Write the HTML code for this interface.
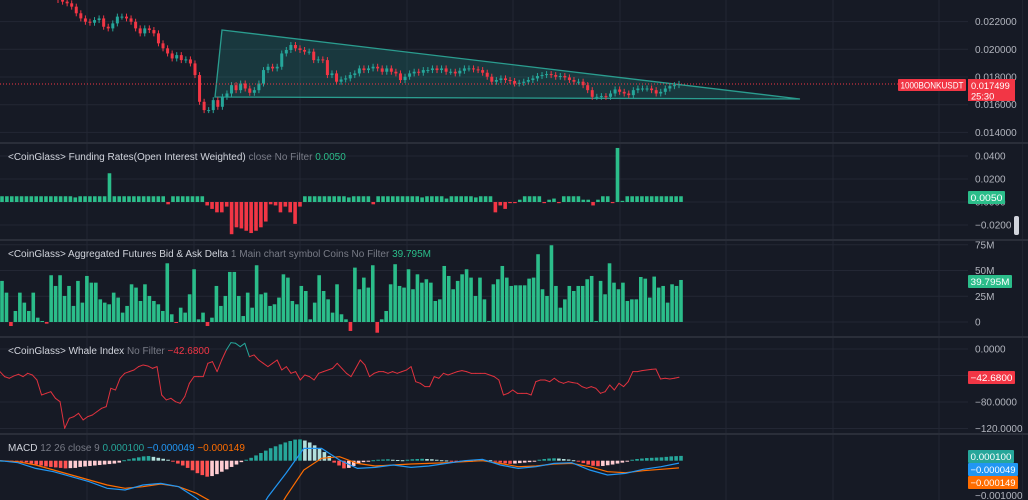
<!DOCTYPE html>
<html><head><meta charset="utf-8"><style>
html,body{margin:0;padding:0;background:#161a25;overflow:hidden;width:1028px;height:500px;}
#wrap{position:relative;width:1028px;height:500px;overflow:hidden;background:#161a25;font-family:"Liberation Sans",sans-serif;}
svg{position:absolute;left:0;top:0;display:block;}
.t{font-family:"Liberation Sans",sans-serif;font-size:10px;}
.tg{font-family:"Liberation Sans",sans-serif;font-size:9.3px;}
</style></head><body>
<div id="wrap">
<svg id="chart" width="1028" height="500"></svg>
</div>
<script>
// ---------- data ----------
const priceCloses=[0.02356,0.02344,0.02332,0.02308,0.02260,0.02223,0.02199,0.02192,0.02211,0.02223,0.02163,0.02151,0.02187,0.02236,0.02236,0.02223,0.02199,0.02151,0.02115,0.02151,0.02139,0.02115,0.02043,0.02007,0.01970,0.01934,0.01958,0.01922,0.01927,0.01898,0.01814,0.01621,0.01561,0.01561,0.01633,0.01585,0.01657,0.01681,0.01741,0.01705,0.01753,0.01717,0.01686,0.01705,0.01753,0.01850,0.01874,0.01862,0.01874,0.01970,0.01995,0.02031,0.02007,0.01995,0.01983,0.01983,0.01922,0.01927,0.01922,0.01814,0.01826,0.01766,0.01782,0.01790,0.01814,0.01826,0.01862,0.01850,0.01862,0.01874,0.01862,0.01838,0.01862,0.01838,0.01826,0.01778,0.01802,0.01826,0.01838,0.01831,0.01850,0.01850,0.01862,0.01850,0.01862,0.01838,0.01838,0.01826,0.01845,0.01862,0.01862,0.01855,0.01850,0.01831,0.01802,0.01766,0.01778,0.01790,0.01778,0.01771,0.01753,0.01758,0.01766,0.01778,0.01790,0.01807,0.01814,0.01821,0.01814,0.01802,0.01807,0.01797,0.01778,0.01766,0.01766,0.01741,0.01705,0.01657,0.01657,0.01662,0.01657,0.01681,0.01710,0.01693,0.01681,0.01669,0.01705,0.01717,0.01717,0.01717,0.01705,0.01681,0.01693,0.01717,0.01734,0.01741,0.01750];
const priceTicks=[0.022,0.020,0.018,0.016,0.014];
const priceTickLabels=["0.022000","0.020000","0.018000","0.016000","0.014000"];
const lastPrice=0.017499;
// funding rate in units of 0.001
const funding=[5,5,5,5,5,5,5,5,5,5,5,5,5,5,5,4,5,5,5,5,5,5,25,5,5,5,5,5,5,5,5,5,5,5,-2,5,5,5,5,5,5,5,
-3,-6,-9,-9,-4,-28,-22,-23,-25,-27,-25,-22,-17,-2,-3,-9,-4,-9,-19,-4,
5,5,5,5,5,5,5,5,5,4,5,5,5,5,-2,5,5,5,5,5,5,5,5,5,4,5,5,5,5,3,5,5,5,5,5,4,5,5,5,
-9,-3,-6,-1,-1,2,5,5,5,5,-1,2,3,-1,5,5,5,5,2,2,-3,2,5,5,-1,47,1,5,5,5,5,5,5,5,5,5,5,5,5];
const fundingTicks=[40,20,0,-20];
const fundingTickLabels=["0.0400","0.0200","0.0000","\u22120.0200"];
// bid/ask delta in millions
const delta=[39.9,28.5,-3.9,10.7,28.5,18.8,10.7,28.5,4.2,1.0,-1.6,45.4,35.0,45.4,25.3,35.0,15.6,39.9,18.8,44.7,38.2,38.2,22.0,18.8,17.2,28.5,23.7,9.1,15.6,36.6,33.4,20.4,36.6,25.3,20.4,17.2,10.7,57.0,7.5,-0.6,13.9,9.1,26.9,51.2,2.6,9.1,-3.9,4.2,35.0,15.6,25.3,48.6,48.6,25.3,5.8,28.5,13.9,55.1,26.9,28.5,15.6,17.2,23.7,46.3,43.1,20.4,17.2,35.0,30.1,2.6,18.8,45.4,30.1,22.0,9.1,36.6,7.5,2.6,-8.7,52.8,31.8,43.1,33.4,55.1,-10.4,2.6,10.7,36.6,56.1,35.0,33.4,51.2,31.8,46.3,38.2,41.5,38.2,20.4,22.0,54.4,44.7,31.8,39.9,46.3,51.2,43.1,25.3,43.1,22.0,1.0,36.6,41.5,54.4,43.1,35.0,35.6,35.6,35.6,42.1,43.1,65.8,31.8,25.3,74.5,35.0,13.9,22.0,35.0,30.1,35.0,35.0,41.5,44.7,1.0,39.9,26.9,57.0,38.2,31.8,38.2,20.4,22.0,22.0,43.7,42.1,23.7,44.1,33.4,35.0,18.8,36.6,35.0,40.8];
const deltaTicks=[75,50,25,0];
const deltaTickLabels=["75M","50M","25M","0"];
// whale index
const whale=[-34.2,-41.7,-44.2,-40.7,-38.2,-41.7,-36.7,-39.2,-46.8,-69.4,-66.9,-64.4,-74.4,-79.5,-119.7,-104.6,-102.1,-97.1,-107.1,-102.1,-99.6,-94.5,-89.5,-87,-59.3,-61.9,-44.2,-36.7,-34.2,-31.7,-26.6,-24.1,-25.6,-29.2,-26.6,-69.4,-76.9,-74.4,-79.5,-82,-71.9,-51.8,-41.7,-41.7,-41.7,-21.6,-19.1,-34.2,-16.6,-1.5,9.6,8.6,3.5,8.6,-11.6,-9.0,-16.6,-21.6,-26.6,-21.6,-16.6,-31.7,-26.6,-36.7,-34.2,-46.8,-39.2,-41.7,-46.8,-36.7,-34.2,-31.7,-29.2,-21.6,-29.2,-36.7,-41.7,-29.2,-16.6,-24.1,-41.7,-36.7,-34.2,-34.2,-36.7,-34.2,-36.7,-34.2,-31.7,-26.6,-49.3,-51.8,-56.8,-56.8,-41.7,-44.2,-36.7,-39.2,-36.7,-34.2,-32.7,-34.2,-36.7,-36.7,-36.7,-36.7,-39.2,-41.7,-46.8,-69.4,-66.9,-61.9,-66.9,-66.9,-66.9,-69.4,-49.3,-46.8,-46.8,-49.3,-44.2,-49.3,-51.8,-49.3,-50.8,-51.8,-56.8,-59.3,-56.8,-59.3,-66.9,-64.4,-54.3,-61.9,-51.8,-56.8,-49.3,-34.2,-34.2,-32.7,-31.7,-30.7,-30.2,-45.2,-44.2,-45.2,-44.2,-42.7];
const whaleTicks=[0,-80,-120];
const whaleTickLabels=["0.0000","\u221280.0000","\u2212120.0000"];
// MACD in units of 1e-6
const macdHist=[0,-5,-10,-15,-20,-35,-60,-80,-100,-120,-130,-140,-150,-160,-155,-150,-130,-120,-110,-100,-90,-80,-70,-60,-40,10,30,50,70,90,97,80,60,40,20,-20,-60,-100,-150,-200,-260,-300,-333,-320,-280,-230,-180,-130,-80,-30,20,60,110,160,210,260,300,340,380,410,440,444,420,380,320,260,180,100,-40,-100,-160,-150,-110,-60,-30,-10,10,20,25,30,20,15,10,20,30,35,40,35,30,20,10,5,-5,-10,-15,-10,-5,5,10,15,10,-20,-40,-55,-65,-60,-50,-40,-30,-10,20,35,45,50,45,35,25,10,-20,-50,-80,-105,-115,-110,-95,-80,-60,-40,-20,20,35,45,55,60,65,70,80,90,95,100];
const macdLine=[0,-42,-160,-229,-333,-437,-576,-611,-507,-472,-541,-784,-1097,-1374,-1374,-750,-264,257,257,14,-160,-139,-90,-139,-111,-56,0,28,-90,-160,-125,-56,-42,-194,-298,-264,-180,-125,-49];
const signalLine=[0,-21,-90,-194,-298,-403,-507,-576,-541,-486,-541,-680,-888,-1166,-1374,-1374,-750,-194,49,83,-56,-111,-90,-69,-56,-42,-21,0,-56,-125,-111,-69,-56,-125,-229,-250,-208,-180,-149];

// ---------- layout ----------
const svg=document.getElementById('chart');
const NS='http://www.w3.org/2000/svg';
const PLOT_R=968;
const C={grid:'#232734',sep:'#2a2e39',txt:'#b2b5be',dim:'#787b86',green:'#26a69a',red:'#f23645',bar:'#2bbd8a'};
function mk(tag,attrs,parent){const e=document.createElementNS(NS,tag);for(const k in attrs)e.setAttribute(k,attrs[k]);(parent||svg).appendChild(e);return e;}
function yPrice(p){return 77+(0.018-p)/0.002*27.7;}
function yFund(v){return 202-v*1.15;}
function yDelta(v){return 322-v*1.03;}
function yWhale(v){return 349-v*0.6625;}
function yMacd(v){return 460.7-v*0.048;}
function xIdx(i,n,x0,x1){return x0+(x1-x0)*i/(n-1);}

const clip=mk('clipPath',{id:'macdclip'});
mk('rect',{x:0,y:435,width:968,height:65},clip);

// background grid
const gridG=mk('g',{});


[87,194,300,407,513,620,726,833,939].forEach(x=>{mk('line',{x1:x,x2:x,y1:0,y2:500,stroke:C.grid,'stroke-width':1},gridG);});
priceTicks.forEach(p=>mk('line',{x1:0,x2:PLOT_R,y1:yPrice(p),y2:yPrice(p),stroke:C.grid},gridG));
fundingTicks.forEach(v=>mk('line',{x1:0,x2:PLOT_R,y1:yFund(v),y2:yFund(v),stroke:C.grid},gridG));
deltaTicks.forEach(v=>mk('line',{x1:0,x2:PLOT_R,y1:yDelta(v),y2:yDelta(v),stroke:C.grid},gridG));
[0,-40,-80,-120].forEach(v=>mk('line',{x1:0,x2:PLOT_R,y1:yWhale(v),y2:yWhale(v),stroke:C.grid},gridG));
[143,240,337,434].forEach(y=>mk('line',{x1:0,x2:1028,y1:y,y2:y,stroke:C.sep,'stroke-width':2},gridG));
mk('line',{x1:1022,x2:1022,y1:0,y2:500,stroke:C.sep,'stroke-width':1},gridG);

// ---------- price pane ----------
const tri=mk('polygon',{points:'222,30 800,99 215,97',fill:'rgba(38,166,154,0.22)',stroke:'#2a9d8f','stroke-width':1.3});


const candG=mk('g',{});


{let prev=0.0237;const n=priceCloses.length;
for(let i=0;i<n;i++){const c=priceCloses[i],o=prev;prev=c;const x=xIdx(i,n,58,679);
 const up=c>=o,col=up?C.green:C.red;const yt=yPrice(Math.max(o,c)),yb=yPrice(Math.min(o,c));
 mk('line',{x1:x,x2:x,y1:yt-3,y2:yb+3,stroke:col,'stroke-width':1},candG);
 const r=mk('rect',{x:x-1.5,y:yt,width:3,height:Math.max(1,yb-yt),fill:col},candG);
 
 }}
const pl=mk('line',{x1:0,x2:898,y1:yPrice(lastPrice),y2:yPrice(lastPrice),stroke:C.red,'stroke-width':1,'stroke-dasharray':'1,2'});



// ---------- funding ----------
const fG=mk('g',{});


{const n=funding.length;for(let i=0;i<n;i++){const v=funding[i];const x=xIdx(i,n,2,681);const y0=yFund(0),y1=yFund(v);
 const r=mk('rect',{x:x-1.8,y:Math.min(y0,y1),width:3.6,height:Math.max(1,Math.abs(y1-y0)),fill:v>=0?C.bar:C.red},fG);
 
 }}

// ---------- delta ----------
const dG=mk('g',{});


{const n=delta.length;for(let i=0;i<n;i++){const v=delta[i];const x=xIdx(i,n,2,681);const y0=yDelta(0),y1=yDelta(v);
 const r=mk('rect',{x:x-1.8,y:Math.min(y0,y1),width:3.6,height:Math.max(1,Math.abs(y1-y0)),fill:v>=0?C.bar:C.red},dG);
 
 }}

// ---------- whale ----------
{const n=whale.length;const wG=mk('g',{});


for(let i=1;i<n;i++){const a=whale[i-1],b=whale[i];
 mk('line',{x1:xIdx(i-1,n,0,679),y1:yWhale(a),x2:xIdx(i,n,0,679),y2:yWhale(b),stroke:(a>0||b>0)?C.green:'#e0323e','stroke-width':1,'stroke-linecap':'round'},wG);}}

// ---------- MACD ----------
const mG=mk('g',{'clip-path':'url(#macdclip)'});


{const n=macdHist.length;for(let i=0;i<n;i++){const v=macdHist[i],p=i?macdHist[i-1]:0;const x=xIdx(i,n,2,681);
 let col;if(v>=0)col=v>=p?'#26a69a':'#b2dfdb';else col=v<=p?'#ff5252':'#ffcdd2';
 const y0=yMacd(0),y1=yMacd(v);
 const r=mk('rect',{x:x-1.8,y:Math.min(y0,y1),width:3.6,height:Math.max(1,Math.abs(y1-y0)),fill:col},mG);
 
 }}
function poly(arr,col,name){const n=arr.length;const pts=arr.map((v,i)=>xIdx(i,n,0,679).toFixed(1)+','+yMacd(v).toFixed(1)).join(' ');
 const e=mk('polyline',{points:pts,fill:'none',stroke:col,'stroke-width':1.2,'clip-path':'url(#macdclip)'});
 
 }
poly(signalLine,'#ff6d00','macd-signal-line');
poly(macdLine,'#2196f3','macd-line');

// ---------- axis panel ----------
const ax=mk('rect',{x:968,y:0,width:54,height:500,fill:'#161a25'});


[143,240,337,434].forEach(y=>mk('line',{x1:968,x2:1022,y1:y,y2:y,stroke:C.sep,'stroke-width':2}));
function txt(x,y,s,col,name,cls){const t=mk('text',{x:x,y:y,fill:col,class:cls||'t'});t.textContent=s;
 
 return t;}
priceTicks.forEach((p,i)=>txt(975,yPrice(p)+3.5,priceTickLabels[i],C.txt,'price-tick'));
fundingTicks.forEach((v,i)=>txt(975,yFund(v)+3.5,fundingTickLabels[i],C.txt,'funding-tick'));
deltaTicks.forEach((v,i)=>txt(975,yDelta(v)+3.5,deltaTickLabels[i],C.txt,'delta-tick'));
whaleTicks.forEach((v,i)=>txt(975,yWhale(v)+3.5,whaleTickLabels[i],C.txt,'whale-tick'));
txt(975,499,'\u22120.001000',C.txt,'macd-tick');
function tag(x,y,w,h,bg,s,name){const r=mk('rect',{x:x,y:y,width:w,height:h,fill:bg,rx:1});
 
 
 const t=txt(x+2.5,y+h/2+3.3,s,'#ffffff',name+'-text','tg');
 t.setAttribute('textLength',String(w-5));
 t.setAttribute('lengthAdjust','spacingAndGlyphs');}
tag(898,79,68,12,C.red,'1000BONKUSDT','symbol-tag');
{const r=mk('rect',{x:968,y:79,width:47,height:22,fill:C.red});
 
 
 txt(971,89,'0.017499','#fff','last-price-text','tg');txt(971,99.5,'25:30','#fff','countdown-text','tg');}
tag(968,191,37,13,C.bar,'0.0050','funding-value-tag');
tag(968,275,44,13,C.bar,'39.795M','delta-value-tag');
tag(968,371,47,13,C.red,'\u221242.6800','whale-value-tag');
tag(968,450,46,13,'#26a69a','0.000100','macd-hist-tag');
tag(968,463,50,13,'#2196f3','\u22120.000049','macd-line-tag');
tag(968,476,50,13,'#ff6d00','\u22120.000149','macd-signal-tag');
{const h=mk('rect',{x:1014,y:216,width:5,height:19,rx:2,fill:'#d1d4dc'});
 
 }

// ---------- legends ----------
function legend(y,parts,name){const t=mk('text',{x:8,y:y,class:'t'});
 
 
 parts.forEach(([s,c])=>{const sp=mk('tspan',{fill:c},t);sp.textContent=s;});}
legend(160,[['<CoinGlass> Funding Rates(Open Interest Weighted) ','#d1d4dc'],['close No Filter   ',C.dim],['0.0050',C.bar]],'funding-legend');
legend(257,[['<CoinGlass> Aggregated Futures Bid & Ask Delta ','#d1d4dc'],['1 Main chart symbol Coins No Filter   ',C.dim],['39.795M',C.bar]],'delta-legend');
legend(354,[['<CoinGlass> Whale Index ','#d1d4dc'],['No Filter   ',C.dim],['\u221242.6800',C.red]],'whale-legend');
legend(451,[['MACD ','#d1d4dc'],['12 26 close 9  ',C.dim],['0.000100 ','#26a69a'],['\u22120.000049 ','#2196f3'],['\u22120.000149','#ff6d00']],'macd-legend');
</script>
</body></html>
